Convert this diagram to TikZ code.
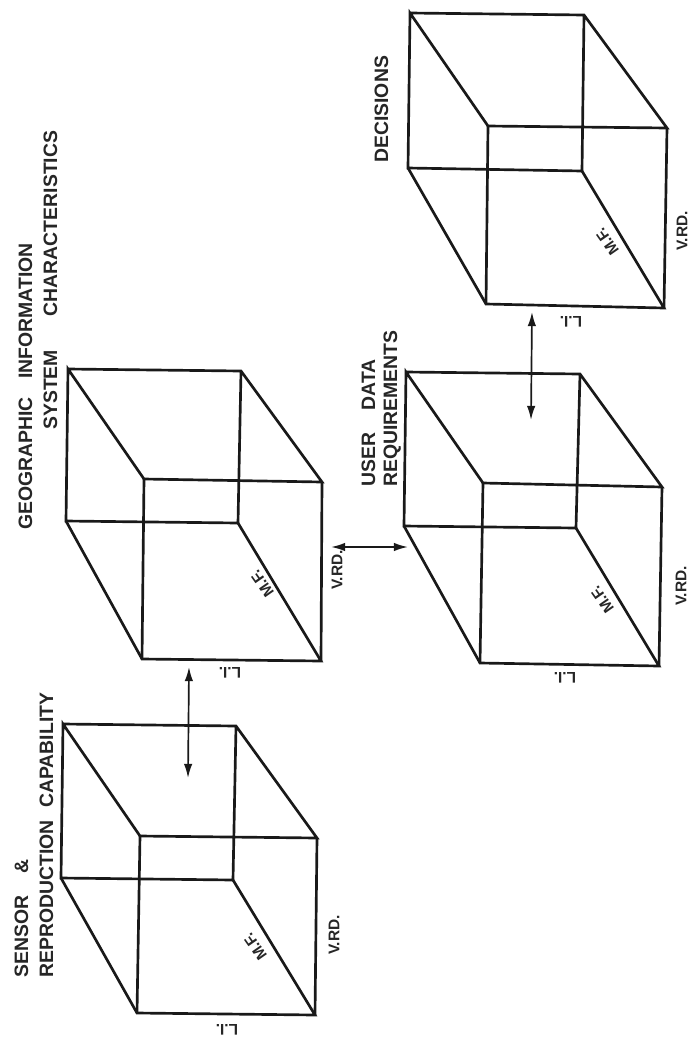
\documentclass[tikz,border=0pt]{standalone}
\usepackage{fontspec}
\setmainfont{Liberation Sans}
\usetikzlibrary{arrows.meta}

\tikzset{
    cubeedge/.style={line width=1.9pt, black!90},
    linkarrow/.style={line width=1.2pt, black!90, {Latex[length=10pt,width=6pt]}-{Latex[length=10pt,width=6pt]}},
    caption/.style={rotate=90, anchor=base west, inner sep=0pt, font=\fontsize{13.8pt}{16pt}\bfseries\selectfont, text=black!85},
    axislabel/.style={inner sep=0pt, font=\fontsize{11pt}{13pt}\bfseries\selectfont, text=black!85},
}

\begin{document}
\begin{tikzpicture}[x=0.025cm, y=-0.025cm]
    \useasboundingbox (0,0) rectangle (690,1040);

    % sensor cube
    \coordinate (sa) at (63,724);
    \coordinate (sb) at (236,726);
    \coordinate (sc) at (317,838);
    \coordinate (sd) at (140,836);
    \coordinate (se) at (61,878);
    \coordinate (sf) at (233,880);
    \coordinate (sg) at (315,1015);
    \coordinate (sh) at (137,1013);
    \draw[cubeedge] (sa) -- (sb) -- (sc) -- (sd) -- (sa) -- (se) -- (sf) -- (sb);
    \draw[cubeedge] (se) -- (sh) -- (sg) -- (sf);
    \draw[cubeedge] (sd) -- (sh);
    \draw[cubeedge] (sc) -- (sg);

    % gis cube
    \coordinate (ga) at (68,369);
    \coordinate (gb) at (241,371);
    \coordinate (gc) at (322,482);
    \coordinate (gd) at (144,479);
    \coordinate (ge) at (66,521);
    \coordinate (gf) at (238,523);
    \coordinate (gg) at (321,661);
    \coordinate (gh) at (142,659);
    \draw[cubeedge] (ga) -- (gb) -- (gc) -- (gd) -- (ga) -- (ge) -- (gf) -- (gb);
    \draw[cubeedge] (ge) -- (gh) -- (gg) -- (gf);
    \draw[cubeedge] (gd) -- (gh);
    \draw[cubeedge] (gc) -- (gg);

    % user cube
    \coordinate (ua) at (406,372);
    \coordinate (ub) at (580,374);
    \coordinate (uc) at (662,487);
    \coordinate (ud) at (483,483);
    \coordinate (ue) at (404,526);
    \coordinate (uf) at (576,528);
    \coordinate (ug) at (659,666);
    \coordinate (uh) at (480,663);
    \draw[cubeedge] (ua) -- (ub) -- (uc) -- (ud) -- (ua) -- (ue) -- (uf) -- (ub);
    \draw[cubeedge] (ue) -- (uh) -- (ug) -- (uf);
    \draw[cubeedge] (ud) -- (uh);
    \draw[cubeedge] (uc) -- (ug);

    % decisions cube
    \coordinate (da) at (410,13);
    \coordinate (db) at (584,15);
    \coordinate (dc) at (667,128);
    \coordinate (dd) at (488,126);
    \coordinate (de) at (408,168);
    \coordinate (df) at (582,171);
    \coordinate (dg) at (664,308);
    \coordinate (dh) at (486,304);
    \draw[cubeedge] (da) -- (db) -- (dc) -- (dd) -- (da) -- (de) -- (df) -- (db);
    \draw[cubeedge] (de) -- (dh) -- (dg) -- (df);
    \draw[cubeedge] (dd) -- (dh);
    \draw[cubeedge] (dc) -- (dg);

    % links
    \coordinate (l1a) at (189,667);
    \coordinate (l1b) at (188,778);
    \coordinate (l2a) at (331,547);
    \coordinate (l2b) at (408,547);
    \coordinate (l3a) at (532,312);
    \coordinate (l3b) at (531,420);
    \draw[linkarrow] (l1a) -- (l1b);
    \draw[linkarrow] (l2a) -- (l2b);
    \draw[linkarrow] (l3a) -- (l3b);

    % captions
    \node[caption] (capsa) at (28,978) {SENSOR\hspace{16pt}\&};
    \node[caption] (capsb) at (53,978) {REPRODUCTION\hspace{9pt}CAPABILITY};
    \node[caption] (capga) at (32,530) {GEOGRAPHIC\hspace{13pt}INFORMATION};
    \node[caption] (capgb) at (57,430) {SYSTEM\hspace{24pt}CHARACTERISTICS};
    \node[caption] (capua) at (375,487) {USER\hspace{16pt}DATA};
    \node[caption] (capub) at (397,487) {REQUIREMENTS};
    \node[caption] (capd) at (388,163) {DECISIONS};

    % l.i. labels
    \node[axislabel, rotate=180] (lis) at (227,1030) {L.I.};
    \node[axislabel, rotate=180] (lig) at (230,673) {L.I.};
    \node[axislabel, rotate=180] (liu) at (565,678) {L.I.};
    \node[axislabel, rotate=180] (lid) at (571,322) {L.I.};

    % v.rd. labels
    \node[axislabel, rotate=90] (vs) at (334,935) {V.RD.};
    \node[axislabel, rotate=90] (vg) at (337,570) {V.RD.};
    \node[axislabel, rotate=90] (vu) at (681,586) {V.RD.};
    \node[axislabel, rotate=90] (vd) at (682,231) {V.RD.};

    % m.f. labels
    \node[axislabel, rotate=125] (ms) at (255,947) {M.F.};
    \node[axislabel, rotate=125] (mg) at (262,584) {M.F.};
    \node[axislabel, rotate=125] (mu) at (602,600) {M.F.};
    \node[axislabel, rotate=125] (md) at (607,242) {M.F.};
\end{tikzpicture}
\end{document}
